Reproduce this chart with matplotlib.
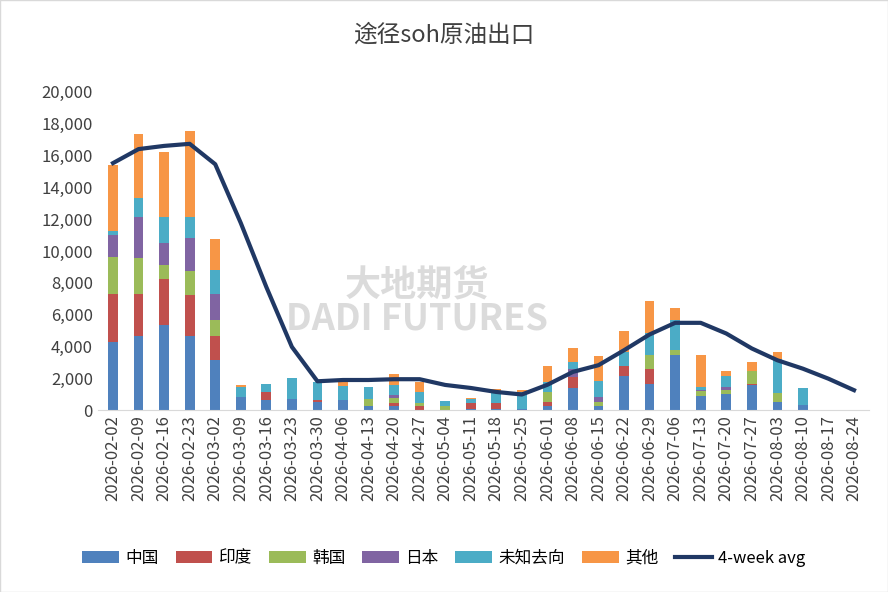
import numpy as np
import pandas as pd
import matplotlib.pyplot as plt

plt.rcParams['font.family'] = ['Noto Sans CJK SC', 'DejaVu Sans']

weeks = pd.date_range("2026-02-02", "2026-08-24", freq="7D").strftime("%Y-%m-%d").tolist()

china = [4300, 4650, 5350, 4650, 3145, 840, 630, 730, 520, 630, 250, 250, 0, 0, 100, 50, 80, 250,
         1400, 250, 2140, 1680, 3460, 880, 1050, 1570, 520, 310, 0, 0]
india = [3000, 2650, 2890, 2580, 1505, 0, 520, 0, 110, 0, 0, 210, 250, 0, 360, 390, 0, 270,
         690, 0, 630, 900, 0, 0, 0, 110, 0, 0, 0, 0]
korea = [2340, 2280, 880, 1510, 1010, 0, 0, 0, 0, 0, 480, 290, 190, 250, 0, 0, 0, 630,
         0, 270, 0, 880, 310, 310, 210, 770, 570, 0, 0, 0]
japan = [1360, 2540, 1400, 2100, 1640, 0, 0, 0, 0, 0, 0, 190, 0, 0, 0, 0, 0, 0,
         520, 310, 0, 0, 0, 110, 210, 0, 0, 0, 0, 0]
unknown = [280, 1200, 1620, 1300, 1500, 630, 490, 1300, 1150, 880, 700, 630, 710, 340, 230, 770, 1070, 630,
           420, 1020, 900, 1360, 1890, 170, 670, 0, 2160, 1090, 0, 0]
other = [4120, 4040, 4090, 5410, 1950, 100, 0, 0, 0, 270, 40, 690, 630, 0, 80, 150, 110, 990,
         870, 1530, 1320, 2040, 740, 1990, 310, 580, 420, 0, 0, 0]
avg4 = [15520, 16400, 16600, 16730, 15450, 11760, 7740, 3980, 1820, 1900, 1900, 1950, 1950, 1590, 1400, 1150,
        990, 1600, 2410, 2830, 3770, 4760, 5490, 5490, 4820, 3880, 3140, 2610, 1980, 1260]

series = [("中国", china, "#4F81BD"), ("印度", india, "#C0504D"), ("韩国", korea, "#9BBB59"),
          ("日本", japan, "#8064A2"), ("未知去向", unknown, "#4BACC6"), ("其他", other, "#F79646")]

fig = plt.figure(figsize=(8.88, 5.92), dpi=100)
ax = fig.add_axes([0.11, 0.307, 0.869, 0.538])
x = np.arange(len(weeks))
bottom = np.zeros(len(weeks))
for name, vals, col in series:
    ax.bar(x, vals, 0.38, bottom=bottom, color=col, label=name, zorder=2)
    bottom += np.array(vals)
ax.plot(x, avg4, color="#203864", lw=3, label="4-week avg", zorder=3)

ax.set_ylim(0, 20000)
ax.set_yticks(range(0, 20001, 2000))
ax.set_yticklabels([f"{v:,}" for v in range(0, 20001, 2000)], fontsize=12, color="#404040")
ax.set_xlim(-0.6, len(weeks) - 0.4)
ax.set_xticks(x)
ax.set_xticklabels(weeks, rotation=90, fontsize=12, color="#404040")
ax.tick_params(length=0)
for s in ["top", "right", "left"]:
    ax.spines[s].set_visible(False)
ax.spines["bottom"].set_color("#d9d9d9")

fig.text(0.5, 0.93, "途径soh原油出口", ha="center", fontsize=17, color="#404040")
fig.text(0.47, 0.49, "大地期货\nDADI FUTURES", ha="center", va="center", fontsize=26,
         color="#b0b0b0", alpha=0.45, fontweight="bold", linespacing=0.9)

h, l = ax.get_legend_handles_labels()
h = h[1:] + h[:1]
l = l[1:] + l[:1]
fig.legend(h, l, loc="center", bbox_to_anchor=(0.5, 0.057), ncol=7, frameon=False,
           fontsize=12, handlelength=2.2, columnspacing=1.0, handletextpad=0.4)
fig.patches.append(plt.Rectangle((0, 0), 1, 1, transform=fig.transFigure, fill=False,
                                 edgecolor="#d9d9d9", lw=1))
fig.savefig("out.png", dpi=100)
